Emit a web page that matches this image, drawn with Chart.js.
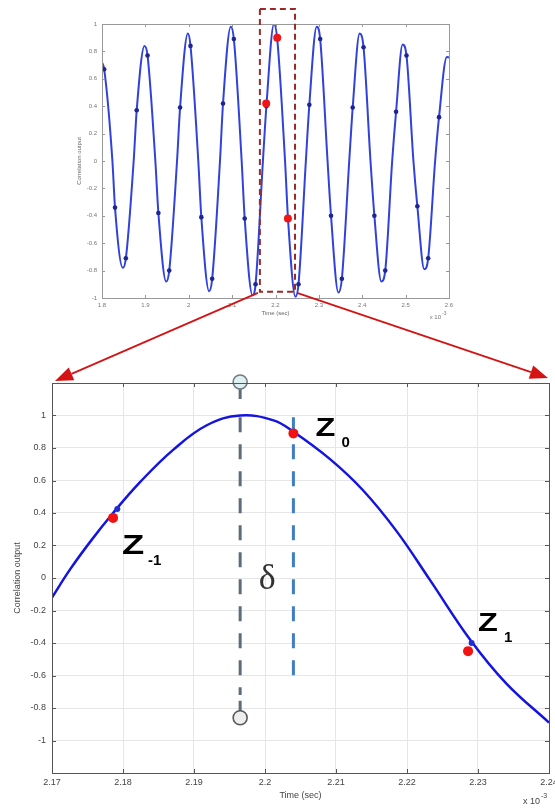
<!DOCTYPE html>
<html>
<head>
<meta charset="utf-8">
<script src="https://cdn.jsdelivr.net/npm/chart.js@4.4.0/dist/chart.umd.min.js"></script>
<style>
  html, body { margin: 0; padding: 0; background: #fff; }
  #wrap { position: relative; width: 555px; height: 808px; overflow: hidden; }
  #top { position: absolute; left: 0; top: 0; }
  #zoom { position: absolute; left: 0; top: 340px; }
  #over { position: absolute; left: 0; top: 0; pointer-events: none; }
</style>
</head>
<body>
<div id="wrap">
  <canvas id="top" width="555" height="330"></canvas>
  <canvas id="zoom" width="555" height="468"></canvas>
  <canvas id="over" width="555" height="808"></canvas>
</div>
<script>
// correlation output, full view (time in ms, i.e. x 10^-3 s)
const topTime = [1.800, 1.805,
  1.824, 1.830, 1.848, 1.855, 1.873, 1.880, 1.898, 1.905,
  1.923, 1.930, 1.948, 1.955, 1.973, 1.980, 1.998, 2.004,
  2.022, 2.029, 2.047, 2.054, 2.072, 2.079, 2.097, 2.104,
  2.122, 2.129, 2.147, 2.154, 2.171, 2.179, 2.1965, 2.204,
  2.222, 2.229, 2.246, 2.253, 2.270, 2.278, 2.295, 2.303,
  2.320, 2.328, 2.345, 2.353, 2.370, 2.378, 2.394, 2.403,
  2.419, 2.428, 2.444, 2.453, 2.469, 2.478, 2.493, 2.502,
  2.518, 2.527, 2.543, 2.552, 2.568, 2.577, 2.595, 2.600];
const topValue = [0.72, 0.67,
  0, -0.34, -0.78, -0.71, 0, 0.37, 0.84, 0.77,
  0, -0.38, -0.88, -0.80, 0, 0.39, 0.93, 0.84,
  0, -0.41, -0.95, -0.86, 0, 0.42, 0.98, 0.89,
  0, -0.42, -0.98, -0.90, 0, 0.40, 1.0, 0.89,
  0, -0.43, -0.99, -0.90, 0, 0.41, 0.98, 0.89,
  0, -0.40, -0.96, -0.86, 0, 0.39, 0.93, 0.83,
  0, -0.40, -0.88, -0.80, 0, 0.36, 0.85, 0.77,
  0, -0.33, -0.79, -0.71, 0, 0.32, 0.76, 0.755];

// sampled points (blue markers)
const sampleTime = [1.805, 1.830, 1.855, 1.880, 1.905, 1.930, 1.955, 1.980, 2.004, 2.029, 2.054,
  2.079, 2.104, 2.129, 2.154, 2.179, 2.204, 2.229, 2.253, 2.278, 2.303, 2.328,
  2.353, 2.378, 2.403, 2.428, 2.453, 2.478, 2.502, 2.527, 2.552, 2.577];
const sampleValue = [0.67, -0.34, -0.71, 0.37, 0.77, -0.38, -0.80, 0.39, 0.84, -0.41, -0.86,
  0.42, 0.89, -0.42, -0.90, 0.40, 0.89, -0.43, -0.90, 0.41, 0.89, -0.40,
  -0.86, 0.39, 0.83, -0.40, -0.80, 0.36, 0.77, -0.33, -0.71, 0.32];

// Z-1, Z0, Z1
const zLabels = ['-1', '0', '1'];
const zTime = [2.1786, 2.204, 2.2286];
const zTopValue = [0.42, 0.90, -0.42];
const zValue = [0.37, 0.89, -0.45];

// zoomed view
const zoomTime = [2.170, 2.1725, 2.1755, 2.1786, 2.1824, 2.1871, 2.1918, 2.1965, 2.2012, 2.204,
  2.2092, 2.2138, 2.2185, 2.2232, 2.2289, 2.234, 2.240];
const zoomValue = [-0.12, 0.05, 0.23, 0.40, 0.59, 0.79, 0.94, 1.0, 0.97, 0.90,
  0.73, 0.54, 0.29, -0.01, -0.38, -0.65, -0.89];
const zoomSampleTime = [2.1792, 2.2041, 2.2291];
const zoomSampleValue = [0.425, 0.885, -0.40];

const peakTime = 2.1965;

const topXTicks = [1.8, 1.9, 2, 2.1, 2.2, 2.3, 2.4, 2.5, 2.6];
const topYTicks = [-1, -0.8, -0.6, -0.4, -0.2, 0, 0.2, 0.4, 0.6, 0.8, 1];
const zoomXTicks = [2.17, 2.18, 2.19, 2.2, 2.21, 2.22, 2.23, 2.24];
const zoomYTicks = [-1, -0.8, -0.6, -0.4, -0.2, 0, 0.2, 0.4, 0.6, 0.8, 1];

const boxTime = [2.164, 2.245];
const boxValue = [1.11, -0.955];

const SANS = '"Liberation Sans", Arial, sans-serif';
const fmt = v => String(Math.round(v * 100) / 100);
const pts = (xs, ys) => xs.map((x, i) => ({ x: x, y: ys[i] }));

function setTicks(arr) {
  return s => { s.ticks = arr.map(v => ({ value: v })); };
}

// box around plot with inward ticks like matlab
const framePlugin = {
  id: 'frame',
  afterDraw(chart, args, opts) {
    const { ctx, chartArea: a, scales: { x, y } } = chart;
    const len = opts.len || 4;
    ctx.save();
    ctx.strokeStyle = opts.color || '#666';
    ctx.lineWidth = 1;
    ctx.beginPath();
    x.ticks.forEach(t => {
      const p = Math.round(x.getPixelForValue(t.value)) + 0.5;
      ctx.moveTo(p, a.bottom); ctx.lineTo(p, a.bottom - len);
      ctx.moveTo(p, a.top); ctx.lineTo(p, a.top + len);
    });
    y.ticks.forEach(t => {
      const p = Math.round(y.getPixelForValue(t.value)) + 0.5;
      ctx.moveTo(a.left, p); ctx.lineTo(a.left + len, p);
      ctx.moveTo(a.right, p); ctx.lineTo(a.right - len, p);
    });
    ctx.stroke();
    ctx.strokeRect(Math.round(a.left) + 0.5, Math.round(a.top) + 0.5,
      Math.round(a.right - a.left), Math.round(a.bottom - a.top));
    // x 10^-3
    ctx.fillStyle = opts.textColor || '#555';
    ctx.textAlign = 'right';
    ctx.textBaseline = 'alphabetic';
    ctx.font = opts.expFont;
    ctx.fillText('x 10', a.right + opts.expDx, a.bottom + opts.expDy);
    ctx.textAlign = 'left';
    ctx.font = opts.supFont;
    ctx.fillText('-3', a.right + opts.expDx + 1, a.bottom + opts.expDy - opts.supUp);
    ctx.restore();
  }
};

// dashed red box around the zoomed region
const boxPlugin = {
  id: 'zoomBox',
  afterDraw(chart) {
    const { ctx, scales: { x, y } } = chart;
    const x1 = x.getPixelForValue(boxTime[0]), x2 = x.getPixelForValue(boxTime[1]);
    const y1 = y.getPixelForValue(boxValue[0]), y2 = y.getPixelForValue(boxValue[1]);
    ctx.save();
    ctx.strokeStyle = '#9a2a2a';
    ctx.lineWidth = 2;
    ctx.setLineDash([6, 4]);
    ctx.strokeRect(x1, y1, x2 - x1, y2 - y1);
    ctx.restore();
  }
};

// delta markers under the curve
const deltaLines = {
  id: 'deltaLines',
  beforeDatasetsDraw(chart) {
    const { ctx, scales: { x, y } } = chart;
    const px = x.getPixelForValue(peakTime);
    const zx = x.getPixelForValue(zTime[1]);
    ctx.save();
    ctx.lineWidth = 3;
    ctx.strokeStyle = '#5d6c7a';
    ctx.setLineDash([]);
    ctx.beginPath();
    ctx.moveTo(px, y.getPixelForValue(1.2) + 6);
    ctx.lineTo(px, y.getPixelForValue(1.2) + 16);
    ctx.moveTo(px, y.getPixelForValue(-0.86) - 6);
    ctx.lineTo(px, y.getPixelForValue(-0.86) - 17);
    ctx.stroke();
    ctx.setLineDash([15, 12]);
    ctx.beginPath();
    ctx.moveTo(px, y.getPixelForValue(0.99));
    ctx.lineTo(px, y.getPixelForValue(-0.72));
    ctx.stroke();
    ctx.strokeStyle = '#3f7fbf';
    ctx.beginPath();
    ctx.moveTo(zx, y.getPixelForValue(0.99));
    ctx.lineTo(zx, y.getPixelForValue(-0.64));
    ctx.stroke();
    ctx.restore();
  },
  afterDraw(chart) {
    const { ctx, scales: { x, y } } = chart;
    const px = x.getPixelForValue(peakTime);
    ctx.save();
    // end circles
    ctx.lineWidth = 1.6;
    ctx.beginPath();
    ctx.arc(px, y.getPixelForValue(1.2) - 1, 7, 0, Math.PI * 2);
    ctx.fillStyle = '#dff0f2';
    ctx.fill();
    ctx.strokeStyle = '#6f7c82';
    ctx.stroke();
    ctx.beginPath();
    ctx.arc(px, y.getPixelForValue(-0.86), 7, 0, Math.PI * 2);
    ctx.fillStyle = '#eeeeee';
    ctx.fill();
    ctx.strokeStyle = '#5a5a5a';
    ctx.stroke();
    // delta
    ctx.fillStyle = '#333';
    ctx.font = '36px "Liberation Serif", "DejaVu Serif", serif';
    ctx.textAlign = 'center';
    ctx.textBaseline = 'alphabetic';
    ctx.fillText('δ', px + 27, y.getPixelForValue(-0.07));
    // Z labels
    const offs = [[9, 36], [22, 3], [10, -20]];
    const sizes = [28, 25, 25];
    zTime.forEach((t, i) => {
      const bx = x.getPixelForValue(t) + offs[i][0];
      const by = y.getPixelForValue(zValue[i]) + offs[i][1];
      ctx.save();
      ctx.translate(bx, by);
      ctx.scale(1.3, 1);
      ctx.textAlign = 'left';
      ctx.fillStyle = '#000';
      ctx.font = 'bold ' + sizes[i] + 'px ' + SANS;
      ctx.fillText('Z', 0, 0);
      ctx.restore();
      ctx.font = 'bold 15px ' + SANS;
      ctx.fillStyle = '#000';
      ctx.textAlign = 'left';
      ctx.fillText(zLabels[i], bx + (i === 0 ? 26 : 26), by + 11);
    });
    ctx.restore();
  }
};

const topChart = new Chart(document.getElementById('top'), {
  type: 'scatter',
  data: {
    datasets: [
      { data: pts(zTime, zTopValue), pointRadius: 4, backgroundColor: '#f01515', borderWidth: 0 },
      { data: pts(sampleTime, sampleValue), pointRadius: 2.3, backgroundColor: '#1c2590', borderWidth: 0 },
      { data: pts(topTime, topValue), showLine: true, pointRadius: 0, borderColor: '#3142dc',
        borderWidth: 2, cubicInterpolationMode: 'monotone' }
    ]
  },
  options: {
    responsive: false, animation: false, events: [],
    layout: { padding: { top: 24, right: 106, left: 0, bottom: 0 } },
    plugins: {
      legend: { display: false }, tooltip: { enabled: false },
      frame: { color: '#999', len: 3, textColor: '#777', expFont: '6px ' + SANS, supFont: '5px ' + SANS,
        expDx: -8, expDy: 21, supUp: 4 }
    },
    scales: {
      x: {
        type: 'linear', min: 1.8, max: 2.6,
        afterBuildTicks: setTicks(topXTicks),
        afterFit: s => { s.height = 32; s.paddingLeft = 0; s.paddingRight = 0; },
        grid: { display: false, drawTicks: false }, border: { display: false },
        ticks: { font: { size: 6, family: SANS }, color: '#777', padding: 4, maxRotation: 0, autoSkip: false, callback: fmt },
        title: { display: true, text: 'Time (sec)', font: { size: 6, family: SANS }, color: '#666', padding: { top: 0, bottom: 13 } }
      },
      y: {
        min: -1, max: 1,
        afterBuildTicks: setTicks(topYTicks),
        afterFit: s => { s.width = 102; s.paddingTop = 0; s.paddingBottom = 0; },
        grid: { display: false, drawTicks: false }, border: { display: false },
        ticks: { font: { size: 6, family: SANS }, color: '#777', padding: 5, autoSkip: false, callback: fmt },
        title: { display: true, text: 'Correlation output', font: { size: 6, family: SANS }, color: '#666', padding: { top: 76, bottom: 0 } }
      }
    }
  },
  plugins: [framePlugin, boxPlugin]
});

const zoomChart = new Chart(document.getElementById('zoom'), {
  type: 'scatter',
  data: {
    datasets: [
      { data: pts(zTime, zValue), pointRadius: 5, backgroundColor: '#f21212', borderWidth: 0 },
      { data: pts(zoomSampleTime, zoomSampleValue), pointRadius: 3, backgroundColor: '#2030d0', borderWidth: 0 },
      { data: pts(zoomTime, zoomValue), showLine: true, pointRadius: 0, borderColor: '#1414e0',
        borderWidth: 2.5, tension: 0.4 }
    ]
  },
  options: {
    responsive: false, animation: false, events: [],
    layout: { padding: { top: 43, right: 6, left: 0, bottom: 0 } },
    plugins: {
      legend: { display: false }, tooltip: { enabled: false },
      frame: { color: '#555', len: 4, textColor: '#444', expFont: '9px ' + SANS, supFont: '7px ' + SANS,
        expDx: -9, expDy: 31, supUp: 6 }
    },
    scales: {
      x: {
        type: 'linear', min: 2.17, max: 2.24,
        afterBuildTicks: setTicks(zoomXTicks),
        afterFit: s => { s.height = 35; s.paddingLeft = 0; s.paddingRight = 0; },
        grid: { color: '#e6e6e6', drawTicks: false }, border: { display: false },
        ticks: { font: { size: 9, family: SANS }, color: '#444', padding: 4, maxRotation: 0, autoSkip: false, callback: fmt },
        title: { display: true, text: 'Time (sec)', font: { size: 9, family: SANS }, color: '#444', padding: { top: 0, bottom: 7 } }
      },
      y: {
        min: -1.2, max: 1.2,
        afterBuildTicks: setTicks(zoomYTicks),
        afterFit: s => { s.width = 52; s.paddingTop = 0; s.paddingBottom = 0; },
        grid: { color: '#e6e6e6', drawTicks: false }, border: { display: false },
        ticks: { font: { size: 9, family: SANS }, color: '#444', padding: 6, autoSkip: false, callback: fmt },
        title: { display: true, text: 'Correlation output', font: { size: 9, family: SANS }, color: '#444', padding: { top: 12, bottom: 0 } }
      }
    }
  },
  plugins: [deltaLines, framePlugin]
});

// red arrows from the box to the zoomed plot
function arrow(ctx, x1, y1, x2, y2) {
  const ang = Math.atan2(y2 - y1, x2 - x1);
  const L = 18, W = 7;
  const bx = x2 - L * Math.cos(ang), by = y2 - L * Math.sin(ang);
  ctx.beginPath();
  ctx.moveTo(x1, y1);
  ctx.lineTo(bx, by);
  ctx.stroke();
  ctx.beginPath();
  ctx.moveTo(x2, y2);
  ctx.lineTo(bx + W * Math.sin(ang), by - W * Math.cos(ang));
  ctx.lineTo(bx - W * Math.sin(ang), by + W * Math.cos(ang));
  ctx.closePath();
  ctx.fill();
}

const octx = document.getElementById('over').getContext('2d');
const tx = topChart.scales.x, ty = topChart.scales.y;
const za = zoomChart.chartArea;
const zoomTop = 340;
octx.strokeStyle = '#d41414';
octx.fillStyle = '#d41414';
octx.lineWidth = 1.8;
arrow(octx, tx.getPixelForValue(boxTime[0]) - 2, ty.getPixelForValue(boxValue[1]) + 1,
  za.left + 3, zoomTop + za.top - 2);
arrow(octx, tx.getPixelForValue(boxTime[1]) + 2, ty.getPixelForValue(boxValue[1]) + 1,
  za.right - 1, zoomTop + za.top - 5);
</script>
</body>
</html>
